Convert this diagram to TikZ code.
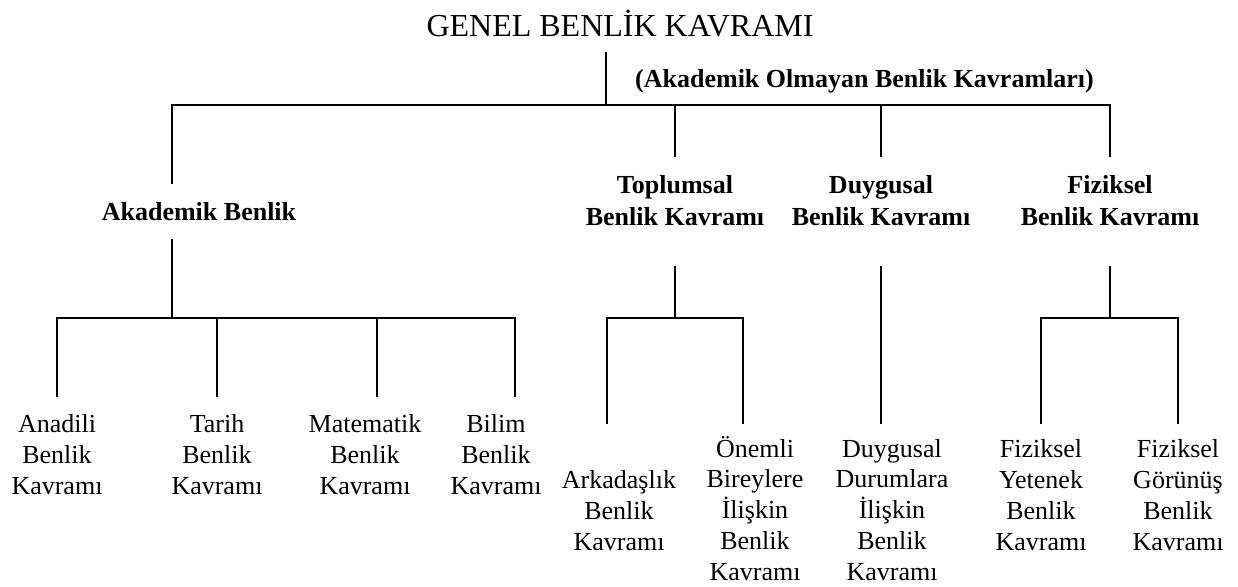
\documentclass[tikz,border=0pt]{standalone}
\usepackage{fontspec}
\setmainfont{Liberation Serif}
\begin{document}
\begin{tikzpicture}[x=1pt,y=-1pt,
  ln/.style={line width=1.8pt},
  ttl/.style={font=\fontsize{32}{36}\selectfont, inner sep=0pt},
  hdr/.style={font=\bfseries\fontsize{26}{32}\selectfont, align=center, inner sep=0pt},
  leaf/.style={font=\fontsize{26}{30.7}\selectfont, align=center, inner sep=0pt}]
\useasboundingbox[fill=white] (0,0) rectangle (1238,586);

% texts (anchor base = baseline of the last line)
\node[ttl, anchor=base] (title) at (620,37) {GENEL BENLİK KAVRAMI};
\node[hdr, anchor=base west] (nonac) at (635,87) {(Akademik Olmayan Benlik Kavramları)};
\node[hdr, anchor=base] (akad) at (199,220) {Akademik Benlik};
\node[hdr, anchor=base] (topl) at (675,225) {Toplumsal\\Benlik Kavramı};
\node[hdr, anchor=base] (duyg) at (881,225) {Duygusal\\Benlik Kavramı};
\node[hdr, anchor=base] (fizk) at (1110,225) {Fiziksel\\Benlik Kavramı};

\node[leaf, anchor=base] (anad) at (57,494) {Anadili\\Benlik\\Kavramı};
\node[leaf, anchor=base] (tari) at (217,494) {Tarih\\Benlik\\Kavramı};
\node[leaf, anchor=base] (mate) at (365,494) {Matematik\\Benlik\\Kavramı};
\node[leaf, anchor=base] (bili) at (496,494) {Bilim\\Benlik\\Kavramı};
\node[leaf, anchor=base] (arka) at (619,550) {Arkadaşlık\\Benlik\\Kavramı};
\node[leaf, anchor=base] (onem) at (755,580) {Önemli\\Bireylere\\İlişkin\\Benlik\\Kavramı};
\node[leaf, anchor=base] (duyl) at (892,580) {Duygusal\\Durumlara\\İlişkin\\Benlik\\Kavramı};
\node[leaf, anchor=base] (yete) at (1041,550) {Fiziksel\\Yetenek\\Benlik\\Kavramı};
\node[leaf, anchor=base] (goru) at (1178,550) {Fiziksel\\Görünüş\\Benlik\\Kavramı};

% junction and end coordinates
\coordinate (t0) at (606,52);
\coordinate (t1) at (606,105);
\coordinate (bL) at (172,105);
\coordinate (bR) at (1110,105);
\coordinate (aTop) at (172,184);
\coordinate (tTop) at (675,157);
\coordinate (dTop) at (881,157);
\coordinate (fTop) at (1110,157);

\coordinate (aBot) at (172,239);
\coordinate (aJ) at (172,318);
\coordinate (aL) at (57,318);
\coordinate (aR) at (515,318);
\coordinate (l1) at (57,397);
\coordinate (l2) at (217,397);
\coordinate (l3) at (377,397);
\coordinate (l4) at (515,397);

\coordinate (tBot) at (675,266);
\coordinate (tJ) at (675,318);
\coordinate (tL) at (607,318);
\coordinate (tR) at (743,318);
\coordinate (m1) at (607,424);
\coordinate (m2) at (743,424);

\coordinate (dBot) at (881,266);
\coordinate (m3) at (881,424);

\coordinate (fBot) at (1110,266);
\coordinate (fJ) at (1110,318);
\coordinate (fL) at (1041,318);
\coordinate (fR) at (1178,318);
\coordinate (m4) at (1041,424);
\coordinate (m5) at (1178,424);

% connectors
\draw[ln] (t0) -- (t1);
\draw[ln] (aTop) -- (bL) -- (bR) -- (fTop);
\draw[ln] (tTop) -- (tTop |- bL);
\draw[ln] (dTop) -- (dTop |- bL);

\draw[ln] (aBot) -- (aJ);
\draw[ln] (l1) -- (aL) -- (aR) -- (l4);
\draw[ln] (l2) -- (l2 |- aL);
\draw[ln] (l3) -- (l3 |- aL);

\draw[ln] (tBot) -- (tJ);
\draw[ln] (m1) -- (tL) -- (tR) -- (m2);

\draw[ln] (dBot) -- (m3);

\draw[ln] (fBot) -- (fJ);
\draw[ln] (m4) -- (fL) -- (fR) -- (m5);
\end{tikzpicture}
\end{document}
